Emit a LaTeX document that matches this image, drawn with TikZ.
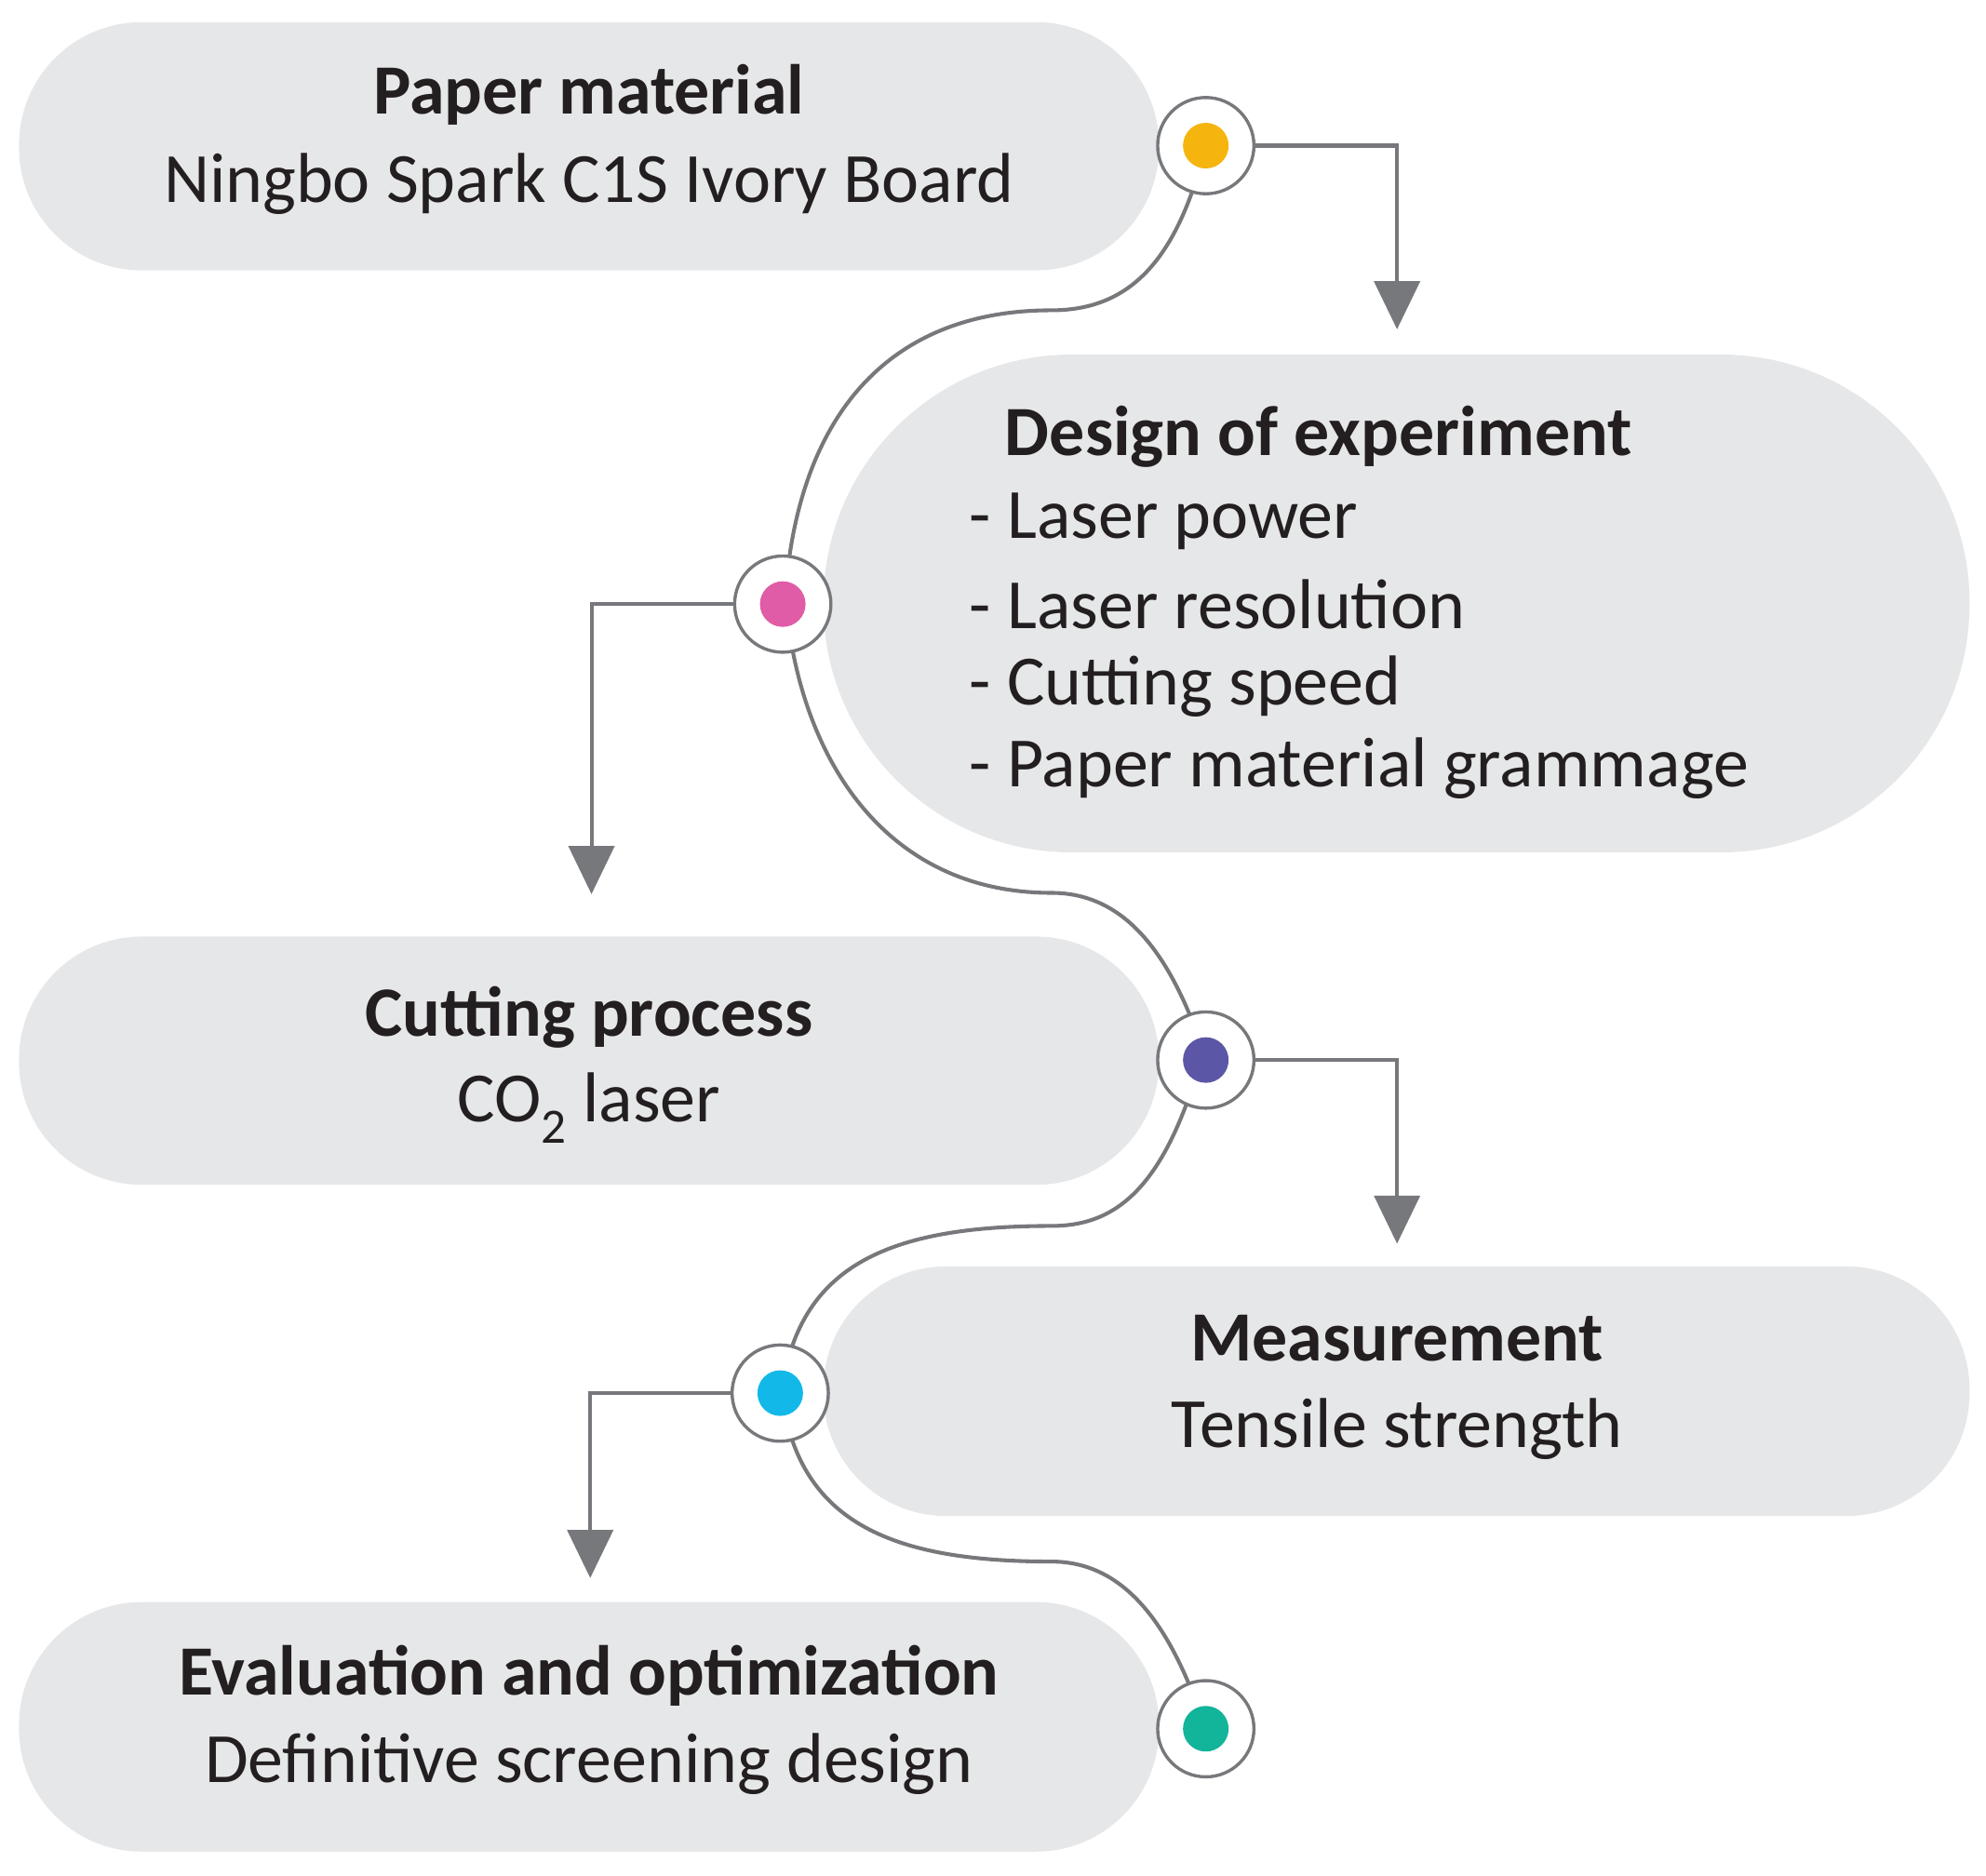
\documentclass[tikz,border=0pt]{standalone}
\usepackage{fontspec}
\setmainfont{Carlito}
\usetikzlibrary{arrows.meta}
\definecolor{boxgray}{HTML}{E6E7E8}
\definecolor{linegray}{HTML}{77787B}
\definecolor{cyel}{HTML}{F6B40E}
\definecolor{cpink}{HTML}{E05CA6}
\definecolor{cpurp}{HTML}{5B57A6}
\definecolor{ccyan}{HTML}{12B9E8}
\definecolor{cgreen}{HTML}{12B49A}
\begin{document}
\begin{tikzpicture}[x=1bp,y=-1bp,
  box/.style={fill=boxgray,draw=none,rounded corners=97bp,minimum height=196bp,inner sep=0},
  t/.style={font=\fontsize{56}{66}\selectfont\color[HTML]{231F20}},
  tb/.style={font=\fontsize{56}{66}\selectfont\bfseries\color[HTML]{231F20}},
  ring/.style={circle,draw=linegray,line width=2.5bp,fill=white,minimum size=76bp,inner sep=0},
  dot/.style={circle,fill=#1,minimum size=36bp,inner sep=0},
  path/.style={draw=linegray,line width=3bp},
  arr/.style={draw=linegray,line width=3bp,-{Triangle[width=36bp,length=38bp]}}]
\useasboundingbox (0,0) rectangle (1568,1481);
% boxes
\node[box,minimum width=900bp] (b1) at (465,115.5) {};
\node[box,minimum width=905bp,minimum height=393bp,rounded corners=196bp] (b2) at (1102.5,476.5) {};
\node[box,minimum width=900bp] (b3) at (465,837.5) {};
\node[box,minimum width=905bp,minimum height=197bp] (b4) at (1102.5,1098.5) {};
\node[box,minimum width=900bp,minimum height=197bp] (b5) at (465,1363.5) {};
% texts
\node[tb] (t1a) at (465,75) {Paper material};
\node[t] (t1b) at (465,145) {Ningbo Spark C1S Ivory Board};
\node[tb,anchor=west] (t2a) at (790,345) {Design of experiment};
\node[t,anchor=west] (t2b) at (762,412) {- Laser power};
\node[t,anchor=west] (t2c) at (762,477) {- Laser resolution};
\node[t,anchor=west] (t2d) at (762,542) {- Cutting speed};
\node[t,anchor=west] (t2e) at (762,607) {- Paper material grammage};
\node[tb] (t3a) at (465,803) {Cutting process};
\node[t] (t3b) at (465,875) {CO\textsubscript{2} laser};
\node[tb] (t4a) at (1103,1057) {Measurement};
\node[t] (t4b) at (1103,1128) {Tensile strength};
\node[tb] (t5a) at (465,1323) {Evaluation and optimization};
\node[t] (t5b) at (465,1393) {Definitive screening design};
% winding path
\draw[path] (945,140) .. controls (920,220) and (880,245) .. (830,245)
  .. controls (700,245) and (630,330) .. (620,470)
  .. controls (630,600) and (700,705) .. (830,705)
  .. controls (880,705) and (920,740) .. (950,830)
  .. controls (920,940) and (880,968) .. (830,968)
  .. controls (700,968) and (630,1000) .. (617,1100)
  .. controls (630,1200) and (700,1233) .. (830,1233)
  .. controls (880,1233) and (920,1270) .. (950,1360);
% rings
\node[ring] (c1) at (952,115) {};
\node[dot=cyel] (d1) at (c1) {};
\node[ring] (c2) at (618,477) {};
\node[dot=cpink] (d2) at (c2) {};
\node[ring] (c3) at (952,837) {};
\node[dot=cpurp] (d3) at (c3) {};
\node[ring] (c4) at (616,1100) {};
\node[dot=ccyan] (d4) at (c4) {};
\node[ring] (c5) at (952,1365) {};
\node[dot=cgreen] (d5) at (c5) {};
% arrows
\coordinate (e1) at (1103,260);
\coordinate (e2) at (467,706);
\coordinate (e3) at (1103,982);
\coordinate (e4) at (466,1246);
\draw[arr] (c1.east) -| (e1);
\draw[arr] (c2.west) -| (e2);
\draw[arr] (c3.east) -| (e3);
\draw[arr] (c4.west) -| (e4);
\end{tikzpicture}
\end{document}
